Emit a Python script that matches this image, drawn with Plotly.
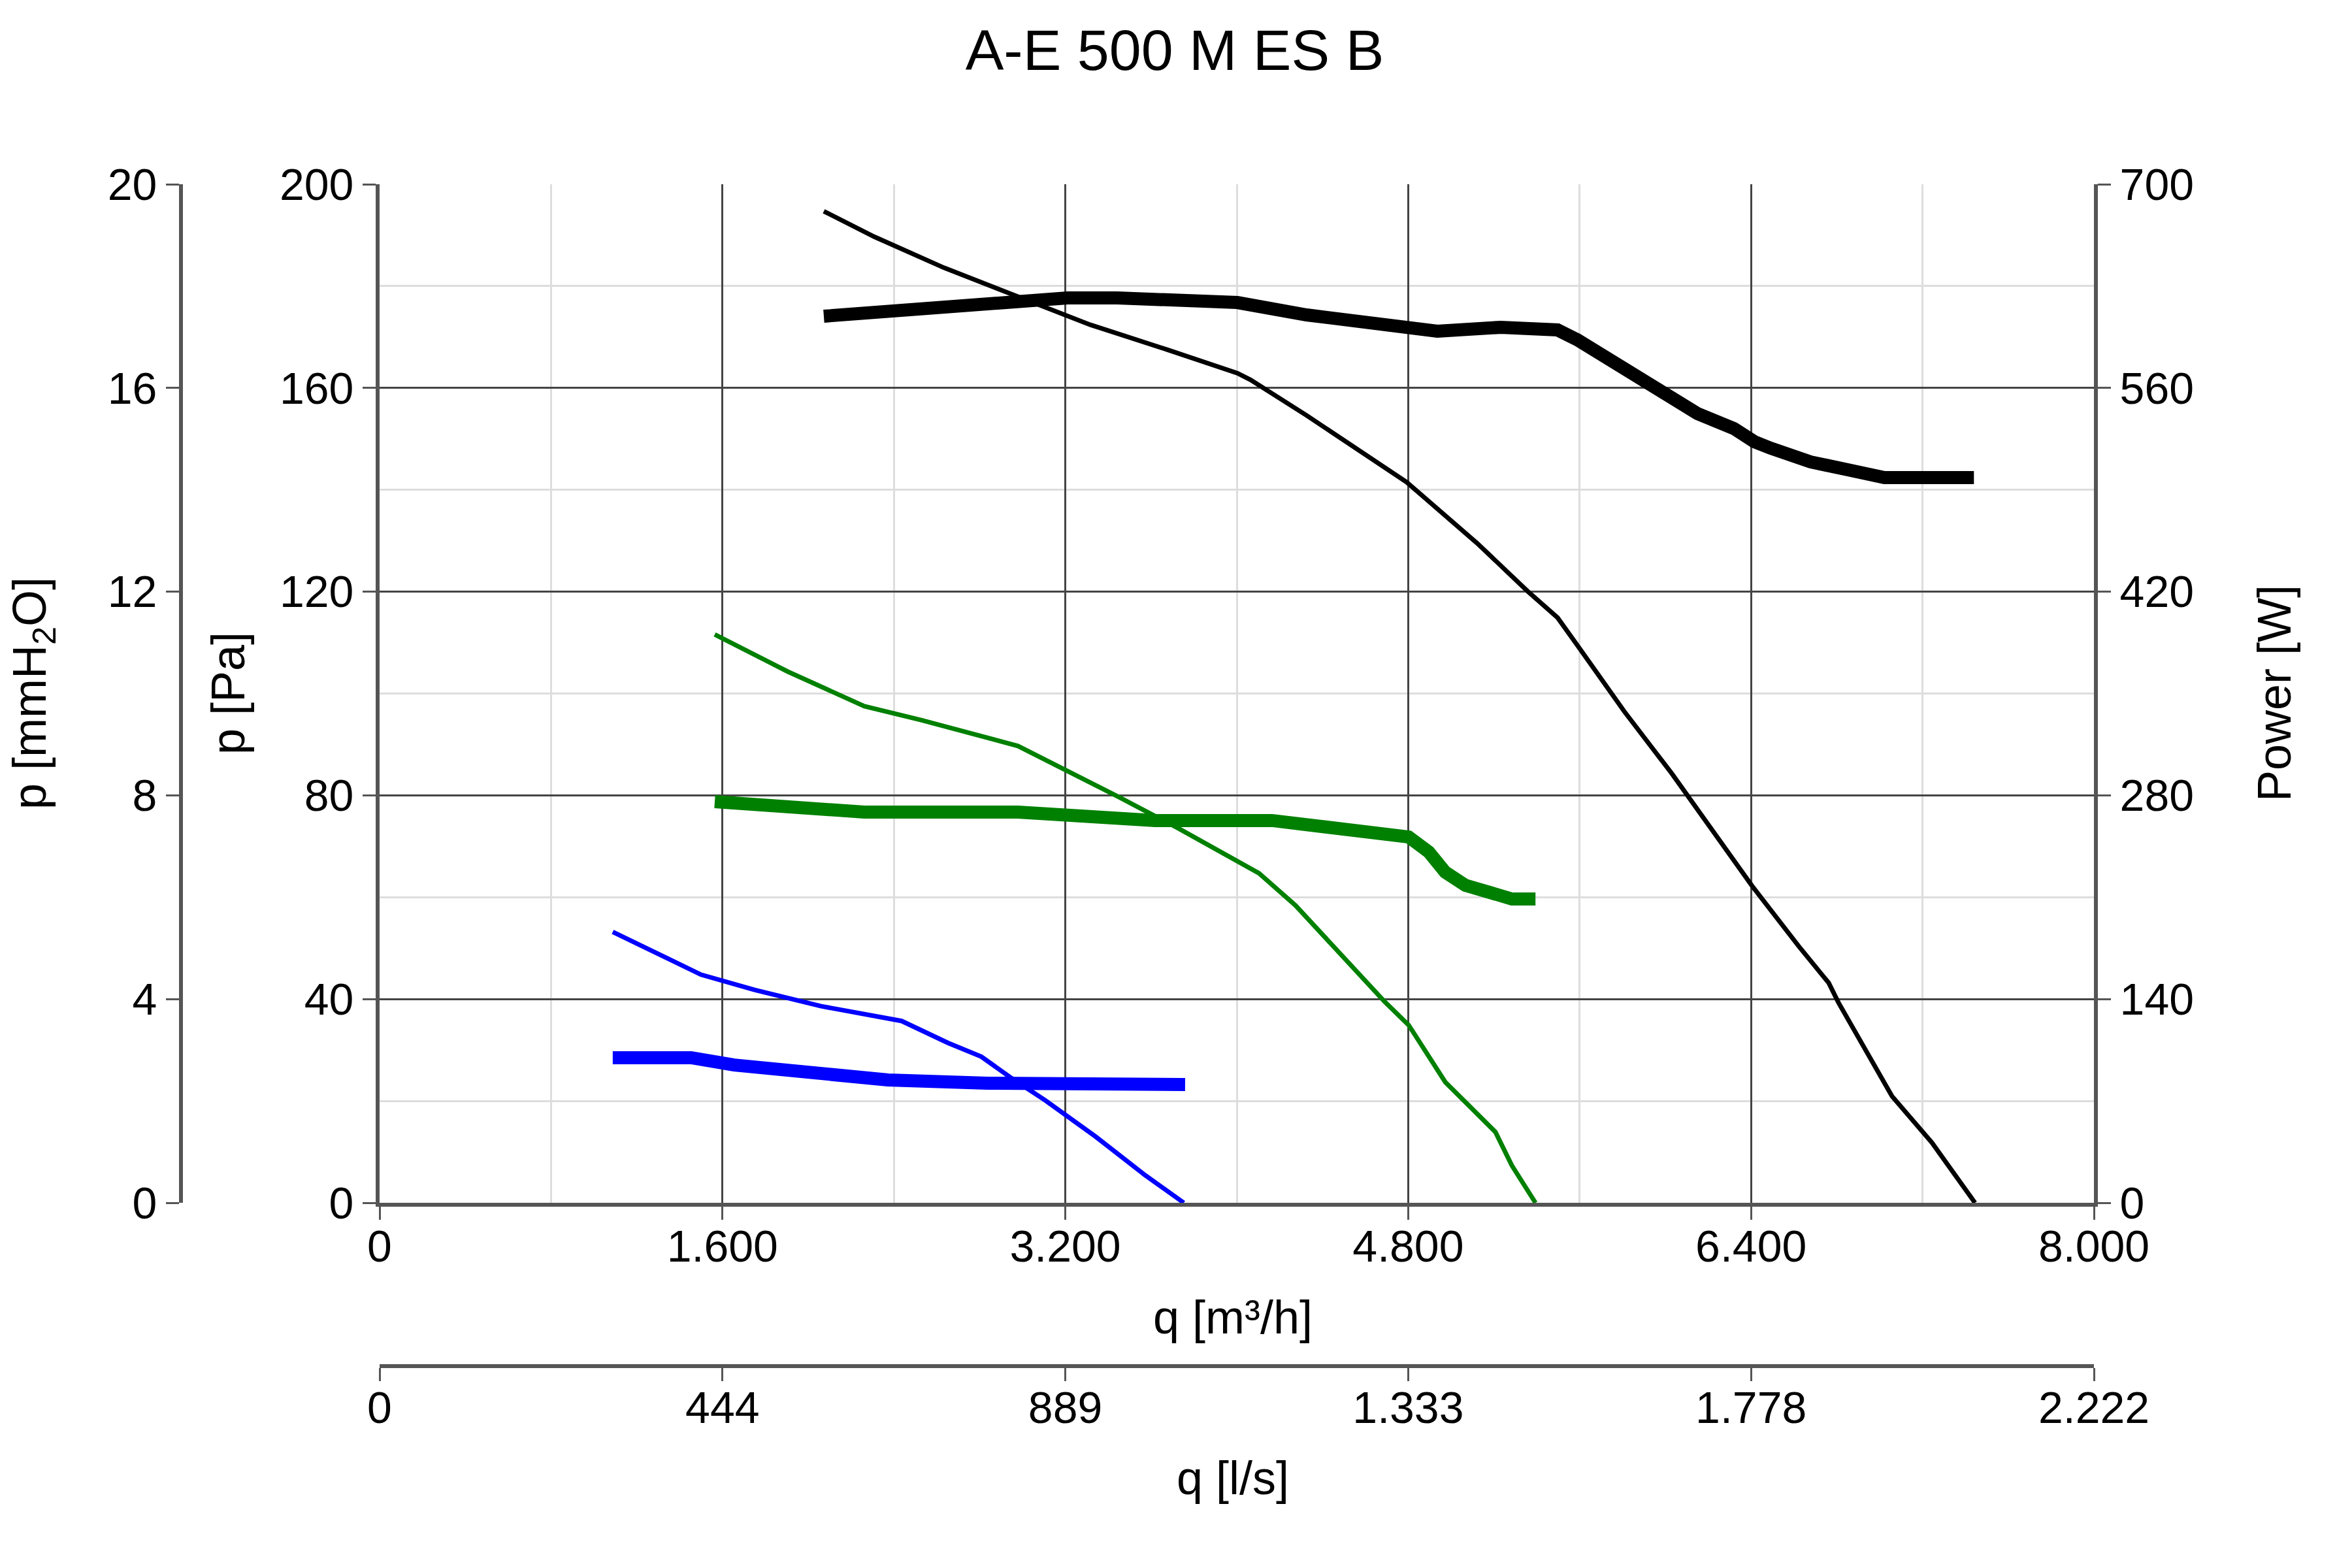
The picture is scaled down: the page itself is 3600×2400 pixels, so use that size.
import plotly.graph_objects as go

# ---- data (q in m3/h, p in Pa, power in W) ----
q_p_high = [2073, 2308, 2634, 2960, 3201, 3317, 3677, 4003, 4064, 4326, 4793, 5122, 5357, 5497, 5589, 5808, 6030, 6155, 6405, 6622, 6762, 6808, 7058, 7244, 7445]
p_high = [194.7, 189.7, 183.6, 178.3, 174.3, 172.4, 167.5, 162.9, 161.6, 154.6, 141.5, 129.5, 120.1, 114.9, 109.5, 96.5, 84.3, 77.0, 62.2, 50.4, 43.2, 39.3, 20.9, 11.8, 0]

q_w_high = [2073, 2665, 3040, 3210, 3442, 3598, 4003, 4326, 4473, 4845, 4936, 5232, 5497, 5589, 5933, 6150, 6320, 6415, 6491, 6677, 6851, 7022, 7440]
w_high = [609.3, 615.6, 619.6, 621.9, 621.9, 620.5, 618.7, 610.2, 607.0, 600.3, 599.0, 601.7, 599.9, 593.1, 560.8, 542.4, 532.1, 523.1, 518.6, 509.2, 503.8, 498.4, 498.4]

q_p_mid = [1564, 1905, 2262, 2527, 2979, 3198, 3448, 3729, 4104, 4274, 4692, 4802, 4973, 5207, 5284, 5394]
p_mid = [111.6, 104.3, 97.5, 94.8, 89.7, 85.1, 79.7, 73.5, 64.7, 58.4, 39.4, 34.9, 23.7, 13.9, 7.3, 0]

q_w_mid = [1564, 1951, 2262, 2979, 3198, 3412, 3619, 4165, 4802, 4896, 4973, 5067, 5284, 5394]
w_mid = [275.7, 271.2, 268.5, 268.5, 265.8, 264.5, 262.7, 262.7, 251.4, 241.1, 227.2, 218.2, 208.8, 208.8]

q_p_low = [1088, 1500, 1750, 2061, 2436, 2652, 2808, 2948, 3107, 3341, 3573, 3753]
p_low = [53.2, 44.8, 41.8, 38.6, 35.7, 31.4, 28.7, 24.5, 20.1, 13.0, 5.4, 0]

q_w_low = [1088, 1454, 1655, 1985, 2372, 2838, 3448, 3512, 3759]
w_low = [99.7, 99.7, 94.7, 89.4, 84.4, 82.2, 82.6, 81.3, 81.3]

title_text = "A-E 500 M ES B"

# ---- layout constants ----
W, H = 3600, 2400
X0, X1 = 581, 3205
Y0, Y1 = 282, 1841
FONT = "Liberation Sans, Arial, sans-serif"
TICK_SIZE = 68
AX_COLOR = "#555555"
GRID_MAJOR = "#444444"
GRID_MINOR = "#dddddd"

def px(x):
    return x / W

def py(y):
    return 1 - y / H

fig = go.Figure()

thin = 7
thick = 20

fig.add_trace(go.Scatter(x=q_p_high, y=p_high, mode="lines", line=dict(color="black", width=thin), xaxis="x", yaxis="y", showlegend=False))
fig.add_trace(go.Scatter(x=q_w_high, y=w_high, mode="lines", line=dict(color="black", width=thick), xaxis="x", yaxis="y3", showlegend=False))
fig.add_trace(go.Scatter(x=q_p_mid, y=p_mid, mode="lines", line=dict(color="#008000", width=thin), xaxis="x", yaxis="y", showlegend=False))
fig.add_trace(go.Scatter(x=q_w_mid, y=w_mid, mode="lines", line=dict(color="#008000", width=thick), xaxis="x", yaxis="y3", showlegend=False))
fig.add_trace(go.Scatter(x=q_p_low, y=p_low, mode="lines", line=dict(color="#0000ff", width=thin), xaxis="x", yaxis="y", showlegend=False))
fig.add_trace(go.Scatter(x=q_w_low, y=w_low, mode="lines", line=dict(color="#0000ff", width=thick), xaxis="x", yaxis="y3", showlegend=False))

# invisible helper traces so the secondary unit axes are drawn
fig.add_trace(go.Scatter(x=[v / 3.6 for v in q_p_low], y=p_low, mode="lines", line=dict(width=0), opacity=0,
                         xaxis="x2", yaxis="y", showlegend=False, hoverinfo="skip"))
fig.add_trace(go.Scatter(x=q_p_low, y=[v / 10 for v in p_low], mode="lines", line=dict(width=0), opacity=0,
                         xaxis="x", yaxis="y2", showlegend=False, hoverinfo="skip"))

common = dict(
    showline=True, linecolor=AX_COLOR, linewidth=6,
    ticks="outside", ticklen=20, tickwidth=3, tickcolor=AX_COLOR,
    tickfont=dict(family=FONT, size=TICK_SIZE, color="black"),
    zeroline=False, fixedrange=True, automargin=False,
)

fig.update_layout(
    width=W, height=H,
    margin=dict(l=0, r=0, t=0, b=0, autoexpand=False),
    paper_bgcolor="white", plot_bgcolor="white",
    separators=",.",
    font=dict(family=FONT, color="black"),
    title=dict(text=title_text, x=px(1798), xref="container", xanchor="center",
               y=py(76), yref="container", yanchor="middle", automargin=False,
               font=dict(family=FONT, size=88, color="black")),
    xaxis=dict(domain=[px(X0), px(X1)], range=[0, 8000], dtick=1600, tick0=0, tickformat=",",
               showgrid=True, gridcolor=GRID_MAJOR, gridwidth=3, anchor="y", ticklabelstandoff=-18,
               minor=dict(dtick=800, tick0=0, showgrid=True, gridcolor=GRID_MINOR, gridwidth=3),
               **common),
    yaxis=dict(domain=[py(Y1), py(Y0)], range=[0, 200], dtick=40, tick0=0,
               showgrid=True, gridcolor=GRID_MAJOR, gridwidth=3, anchor="x",
               minor=dict(dtick=20, tick0=0, showgrid=True, gridcolor=GRID_MINOR, gridwidth=3),
               **common),
    yaxis2=dict(overlaying="y", side="left", anchor="free", position=px(277),
                range=[0, 20], dtick=4, tick0=0, showgrid=False, **common),
    yaxis3=dict(overlaying="y", side="right", anchor="x",
                range=[0, 700], dtick=140, tick0=0, showgrid=False, **common),
    xaxis2=dict(overlaying="x", side="bottom", anchor="free", position=py(2091),
                range=[0, 8000 / 3.6], dtick=8000 / 3.6 / 5, tick0=0, tickformat=",.0f",
                showgrid=False, ticklabelstandoff=-18, **common),
)

lab = dict(family=FONT, size=72, color="black")
annotations = [
    dict(text="p [mmH<sub>2</sub>O]", x=px(50), y=py(1061), textangle=-90),
    dict(text="p [Pa]", x=px(349), y=py(1061), textangle=-90),
    dict(text="Power [W]", x=px(3481), y=py(1061), textangle=-90),
    dict(text="q [m³/h]", x=px(1887), y=py(2016), textangle=0),
    dict(text="q [l/s]", x=px(1887), y=py(2262), textangle=0),
]
for a in annotations:
    fig.add_annotation(xref="paper", yref="paper", showarrow=False, xanchor="center", yanchor="middle",
                       font=lab, **a)

fig.write_html("out.html")
